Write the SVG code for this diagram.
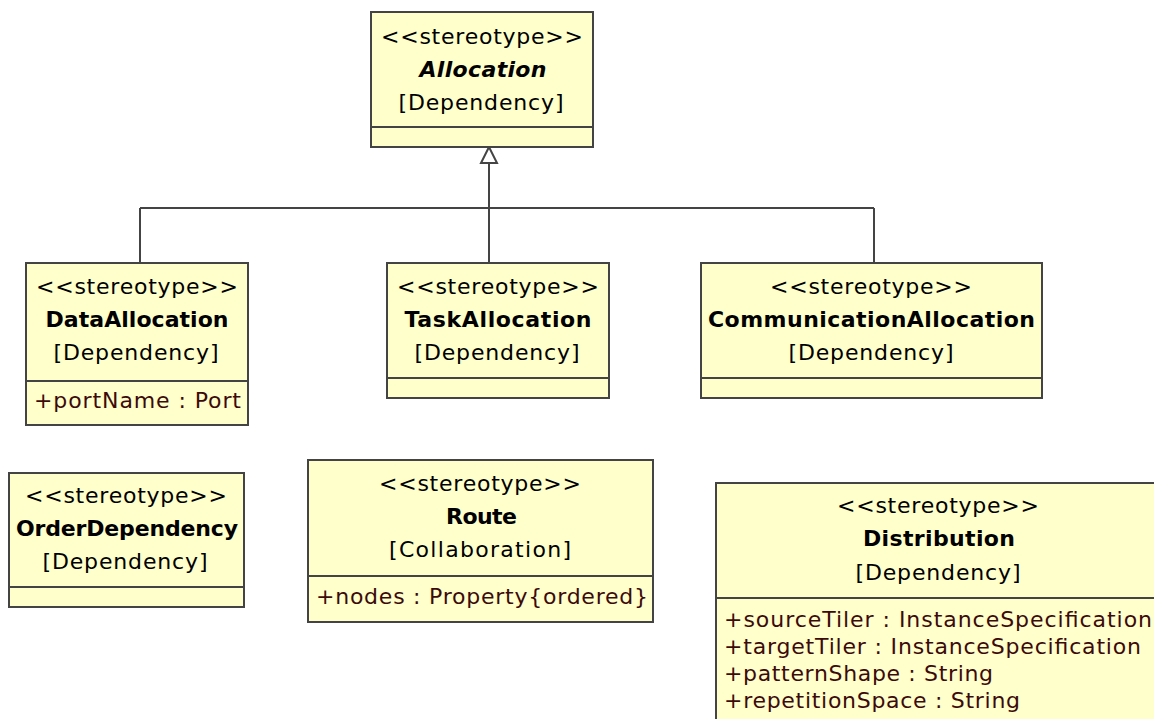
<svg xmlns="http://www.w3.org/2000/svg" width="1154" height="719" viewBox="0 0 1154 719">
<defs>
<style>
.box{fill:#ffffcc;stroke:#444444;stroke-width:2}
.div{stroke:#444444;stroke-width:2}
text{font-family:"DejaVu Sans","Liberation Sans",sans-serif;font-size:22px;fill:#000}
.c{text-anchor:middle}
.b{font-weight:bold}
.i{font-style:italic}
.attr{fill:#3c0a0a}
.edge{stroke:#444444;stroke-width:2;fill:none}
</style>
</defs>
<g id="connectors">
<polygon points="489,147 481,163 497,163" fill="#ffffff" stroke="#444444" stroke-width="2"/>
<line class="edge" x1="489" y1="163" x2="489" y2="263"/>
<line class="edge" x1="140" y1="208" x2="874" y2="208"/>
<line class="edge" x1="140" y1="208" x2="140" y2="263"/>
<line class="edge" x1="874" y1="208" x2="874" y2="263"/>
</g>
<g id="Allocation">
<rect class="box" x="371" y="12" width="222" height="135"/>
<line class="div" x1="371" y1="127" x2="593" y2="127"/>
<text class="c" x="482" y="44" textLength="202">&lt;&lt;stereotype&gt;&gt;</text>
<text class="c b i" x="483" y="77" textLength="127">Allocation</text>
<text class="c" x="481" y="110" textLength="165">[Dependency]</text>
</g>
<g id="DataAllocation">
<rect class="box" x="26" y="263" width="222" height="162"/>
<line class="div" x1="26" y1="381" x2="248" y2="381"/>
<text class="c" x="137" y="294" textLength="202">&lt;&lt;stereotype&gt;&gt;</text>
<text class="c b" x="137" y="327" textLength="183">DataAllocation</text>
<text class="c" x="136" y="360" textLength="165">[Dependency]</text>
<text class="attr" x="34" y="408" textLength="207">+portName : Port</text>
</g>
<g id="TaskAllocation">
<rect class="box" x="387" y="263" width="222" height="135"/>
<line class="div" x1="387" y1="378" x2="609" y2="378"/>
<text class="c" x="498" y="294" textLength="202">&lt;&lt;stereotype&gt;&gt;</text>
<text class="c b" x="498" y="327" textLength="187">TaskAllocation</text>
<text class="c" x="497" y="360" textLength="165">[Dependency]</text>
</g>
<g id="CommunicationAllocation">
<rect class="box" x="701" y="263" width="341" height="135"/>
<line class="div" x1="701" y1="378" x2="1042" y2="378"/>
<text class="c" x="871" y="294" textLength="202">&lt;&lt;stereotype&gt;&gt;</text>
<text class="c b" x="871.5" y="327" textLength="327">CommunicationAllocation</text>
<text class="c" x="871" y="360" textLength="165">[Dependency]</text>
</g>
<g id="OrderDependency">
<rect class="box" x="9" y="473" width="235" height="134"/>
<line class="div" x1="9" y1="587" x2="244" y2="587"/>
<text class="c" x="126" y="503" textLength="202">&lt;&lt;stereotype&gt;&gt;</text>
<text class="c b" x="127" y="536" textLength="222">OrderDependency</text>
<text class="c" x="125" y="569" textLength="165">[Dependency]</text>
</g>
<g id="Route">
<rect class="box" x="308" y="460" width="345" height="162"/>
<line class="div" x1="308" y1="576" x2="653" y2="576"/>
<text class="c" x="480" y="491" textLength="202">&lt;&lt;stereotype&gt;&gt;</text>
<text class="c b" x="481.5" y="524" textLength="71">Route</text>
<text class="c" x="480" y="557" textLength="182">[Collaboration]</text>
<text class="attr" x="316" y="604" textLength="332">+nodes : Property{ordered}</text>
</g>
<g id="Distribution">
<rect class="box" x="716" y="483" width="444" height="250"/>
<line class="div" x1="716" y1="598" x2="1160" y2="598"/>
<text class="c" x="938" y="513" textLength="202">&lt;&lt;stereotype&gt;&gt;</text>
<text class="c b" x="939" y="546" textLength="152">Distribution</text>
<text class="c" x="938" y="580" textLength="165">[Dependency]</text>
<text class="attr" x="724" y="627" textLength="428">+sourceTiler : InstanceSpecification</text>
<text class="attr" x="724" y="654" textLength="417">+targetTiler : InstanceSpecification</text>
<text class="attr" x="724" y="681" textLength="269">+patternShape : String</text>
<text class="attr" x="724" y="708" textLength="296">+repetitionSpace : String</text>
</g>
</svg>
